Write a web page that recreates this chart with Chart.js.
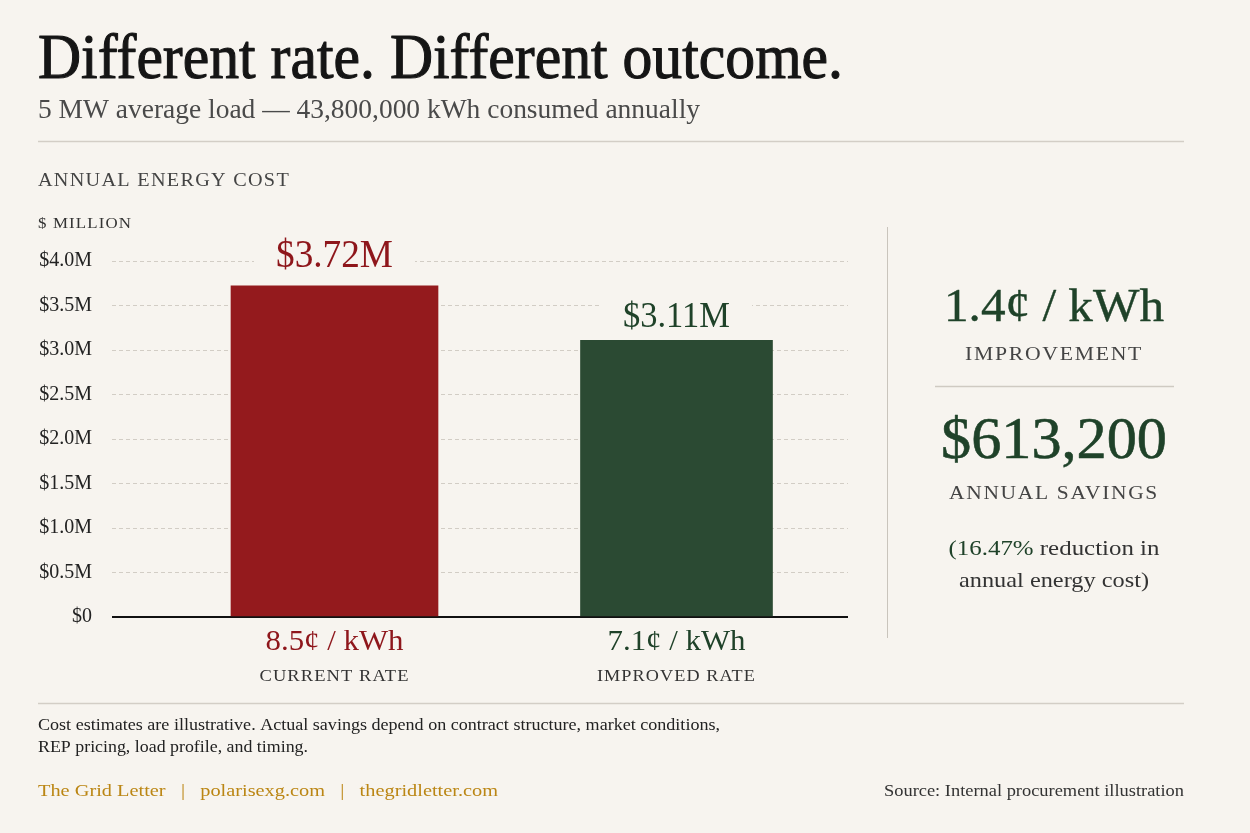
<!DOCTYPE html>
<html>
<head>
<meta charset="utf-8">
<script src="https://cdn.jsdelivr.net/npm/chart.js@4.4.1/dist/chart.umd.min.js"></script>
<style>
  html, body { margin: 0; padding: 0; background: #f7f4ef; }
  #wrap { width: 1250px; height: 833px; position: relative; }
</style>
</head>
<body>
<div id="wrap"><canvas id="c" width="1250" height="833"></canvas></div>
<script>
// ---- data ----
const categories = ['CURRENT RATE', 'IMPROVED RATE'];
const annualCostM = [3.72, 3.11];
const costLabels = ['$3.72M', '$3.11M'];
const rateLabels = ['8.5¢ / kWh', '7.1¢ / kWh'];
const yTickValues = [0, 0.5, 1.0, 1.5, 2.0, 2.5, 3.0, 3.5, 4.0];
const improvementText = '1.4¢ / kWh';
const savingsText = '$613,200';
const reductionPct = '16.47%';

// ---- styles ----
const BG = '#f7f4ef';
const RED = '#941a1d';
const RED_TXT = '#8e161b';
const GREEN = '#2b4a33';
const GREEN_TXT = '#1f4229';
const FONT = '"Liberation Serif", "DejaVu Serif", serif';
const barWidths = [207, 192];
const barColors = [RED, GREEN];
const textColors = [RED_TXT, GREEN_TXT];

function txt(ctx, s, x, y, o) {
  ctx.save();
  ctx.font = (o.weight || 'normal') + ' ' + o.size + 'px ' + FONT;
  ctx.letterSpacing = (o.ls || 0) + 'px';
  ctx.fillStyle = o.color || '#222';
  ctx.textBaseline = 'alphabetic';
  ctx.textAlign = o.align || 'left';
  const w = ctx.measureText(s).width;
  const sx = o.w ? o.w / w : 1;
  ctx.translate(x, y);
  ctx.scale(sx, 1);
  ctx.fillText(s, 0, 0);
  if (o.stroke) {
    ctx.strokeStyle = o.color || '#222';
    ctx.lineWidth = o.stroke;
    ctx.lineJoin = 'round';
    ctx.strokeText(s, 0, 0);
  }
  ctx.restore();
}
function hline(ctx, x1, x2, y, color, lw) {
  ctx.save(); ctx.strokeStyle = color; ctx.lineWidth = lw || 1;
  ctx.beginPath(); ctx.moveTo(x1, y); ctx.lineTo(x2, y); ctx.stroke(); ctx.restore();
}

const decor = {
  id: 'decor',
  beforeDraw(chart) {
    const ctx = chart.ctx;
    ctx.save(); ctx.fillStyle = BG; ctx.fillRect(0, 0, chart.width, chart.height); ctx.restore();
  },
  afterDraw(chart) {
    const ctx = chart.ctx;
    // header
    txt(ctx, 'Different rate. Different outcome.', 38, 78, {size: 64, color: '#151515', w: 805, stroke: 1.1});
    txt(ctx, '5 MW average load — 43,800,000 kWh consumed annually', 38, 118, {size: 27, color: '#4a4a4a', w: 662});
    hline(ctx, 38, 1184, 141.5, '#d3cec6', 1.5);
    txt(ctx, 'ANNUAL ENERGY COST', 38, 186, {size: 19, color: '#444', ls: 1.2, w: 252});
    txt(ctx, '$ MILLION', 38, 228, {size: 15, color: '#333', ls: 1, w: 94});

    // bar annotations
    categories.forEach((cat, i) => {
      const meta = chart.getDatasetMeta(i);
      const bar = meta.data[0];
      const cx = bar.x;
      const off = i === 0 ? 19 : 13;
      const size = i === 0 ? 39 : 35;
      ctx.save();
      ctx.fillStyle = BG;
      const tw = i === 0 ? 117 : 107;
      ctx.fillRect(cx - tw / 2 - 22, bar.y - off - size * 0.8, tw + 44, size * 0.95);
      ctx.restore();
      txt(ctx, costLabels[i], cx, bar.y - off, {size: size, color: textColors[i], align: 'center', w: tw});
      txt(ctx, rateLabels[i], cx, 650, {size: 29, color: textColors[i], align: 'center', w: 138});
      txt(ctx, cat, cx, 681, {size: 17, color: '#333', align: 'center', ls: 1, w: i === 0 ? 150 : 159});
    });

    // right panel
    ctx.save(); ctx.strokeStyle = '#c9c4bc'; ctx.lineWidth = 1;
    ctx.beginPath(); ctx.moveTo(887.5, 227); ctx.lineTo(887.5, 638); ctx.stroke(); ctx.restore();
    const pc = 1054;
    txt(ctx, improvementText, pc, 321, {size: 46, color: GREEN_TXT, align: 'center', w: 220, stroke: 0.4});
    txt(ctx, 'IMPROVEMENT', pc, 360, {size: 19, color: '#444', align: 'center', ls: 1.5, w: 178});
    hline(ctx, 935, 1174, 386.5, '#cfcac2', 1.5);
    txt(ctx, savingsText, pc, 458, {size: 60, color: GREEN_TXT, align: 'center', w: 226, stroke: 0.6});
    txt(ctx, 'ANNUAL SAVINGS', pc, 499, {size: 19, color: '#444', align: 'center', ls: 1.5, w: 210});
    // mixed color line
    ctx.save();
    ctx.font = '22px ' + FONT;
    const p1 = '(' + reductionPct, p2 = ' reduction in';
    const w1 = ctx.measureText(p1).width, w2 = ctx.measureText(p2).width;
    const target = 211, sc = target / (w1 + w2), left = pc - target / 2;
    ctx.translate(left, 555); ctx.scale(sc, 1);
    ctx.fillStyle = GREEN_TXT; ctx.fillText(p1, 0, 0);
    ctx.fillStyle = '#333'; ctx.fillText(p2, w1, 0);
    ctx.restore();
    txt(ctx, 'annual energy cost)', pc, 587, {size: 22, color: '#333', align: 'center', w: 190});

    // footer
    hline(ctx, 38, 1184, 703.5, '#d3cec6', 1.5);
    txt(ctx, 'Cost estimates are illustrative. Actual savings depend on contract structure, market conditions,', 38, 730, {size: 16, color: '#222', w: 682});
    txt(ctx, 'REP pricing, load profile, and timing.', 38, 752, {size: 16, color: '#222', w: 270});
    txt(ctx, 'The Grid Letter   |   polarisexg.com   |   thegridletter.com', 38, 796, {size: 17, color: '#bb8614', w: 460});
    txt(ctx, 'Source: Internal procurement illustration', 1184, 796, {size: 17, color: '#333', align: 'right', w: 300});
  }
};

new Chart(document.getElementById('c'), {
  type: 'bar',
  data: {
    datasets: categories.map((cat, i) => ({
      label: cat,
      data: [{x: i, y: annualCostM[i]}],
      backgroundColor: barColors[i],
      barThickness: barWidths[i],
      grouped: false
    }))
  },
  options: {
    responsive: false,
    animation: false,
    layout: { padding: { top: 261, right: 402, bottom: 216, left: 0 } },
    plugins: { legend: { display: false }, tooltip: { enabled: false } },
    scales: {
      x: { type: 'linear', min: -0.6506, max: 1.5015, offset: false, display: false },
      y: {
        min: 0, max: 4,
        afterBuildTicks(scale) { scale.ticks = yTickValues.map(v => ({value: v})); },
        afterFit(scale) { scale.width = 112; },
        ticks: {
          padding: 20,
          color: '#222',
          font: { family: FONT, size: 20 },
          callback: v => v === 0 ? '$0' : '$' + Number(v).toFixed(1) + 'M'
        },
        grid: {
          drawTicks: false,
          color: c => c.tick && c.tick.value === 0 ? '#111' : '#d2cdc5',
          lineWidth: c => c.tick && c.tick.value === 0 ? 2 : 1
        },
        border: {
          display: false,
          dash: c => c.tick && c.tick.value === 0 ? [] : [4, 3]
        }
      }
    }
  },
  plugins: [decor]
});
</script>
</body>
</html>
